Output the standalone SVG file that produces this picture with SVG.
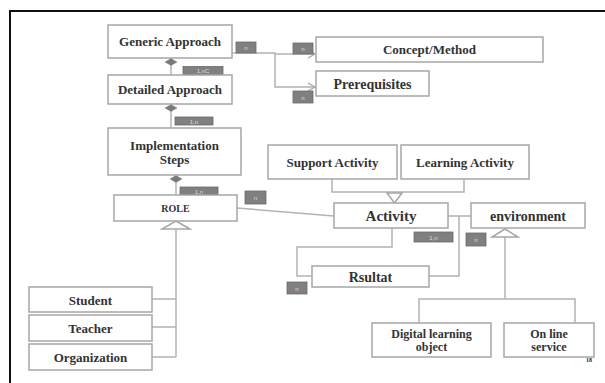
<svg xmlns="http://www.w3.org/2000/svg" width="605" height="383" viewBox="0 0 605 383">
<style>
.box{fill:#fff;stroke:#a6a6a6;stroke-width:1.5}
.t{font-family:"Liberation Serif",serif;font-weight:bold;fill:#333;text-anchor:middle}
.ln{fill:none;stroke:#b3b3b3;stroke-width:1.5}
.lb{fill:#808080;stroke:#6a6a6a;stroke-width:0.8}
.lt{font-family:"Liberation Sans",sans-serif;font-size:6px;fill:#ddd;text-anchor:middle}
.dia{fill:#7a7a7a;stroke:#888;stroke-width:0.5}
.tri{fill:#fff;stroke:#a6a6a6;stroke-width:1.5}
</style>
<defs>
<marker id="open" markerWidth="10" markerHeight="10" refX="8" refY="5" orient="auto" markerUnits="userSpaceOnUse">
<path d="M1,1 L8,5 L1,9" fill="none" stroke="#a6a6a6" stroke-width="1.3"/>
</marker>
</defs>
<rect width="605" height="383" fill="#fff"/>
<path d="M10,383 L10,11 L605,11" fill="none" stroke="#111" stroke-width="2"/>

<g id="connectors">
<path class="ln" d="M171,58 L171,75"/>
<path class="ln" d="M171,104 L171,128"/>
<path class="ln" d="M176,175 L176,195"/>
<path class="ln" d="M232,53 L275,53 L275,54 L315,54" marker-end="url(#open)"/>
<path class="ln" d="M275,54 L275,87 L315,87" marker-end="url(#open)"/>
<path class="ln" d="M176,229 L176,357"/>
<path class="ln" d="M152,299 L176,299 M152,327 L176,327 M152,357 L176,357"/>
<path class="ln" d="M332,179 L332,192 L464,192 L464,179"/>
<path class="ln" d="M237,208 L334,216"/>
<path class="ln" d="M448,216 L471,216 M459,216 L459,276 L429,276"/>
<path class="ln" d="M392,228 L392,247 L297,247 L297,276 L312,276"/>
<path class="ln" d="M505,237 L505,299 M419,323 L419,299 L575,299 L575,323"/>
<polygon class="dia" points="165,62 171,58.5 177,62 171,65.5"/>
<polygon class="dia" points="165,108 171,104.5 177,108 171,111.5"/>
<polygon class="dia" points="170,179 176,175.5 182,179 176,182.5"/>
<polygon class="tri" points="176,221 190,229 162,229"/>
<polygon class="tri" points="387,193 402,193 394.5,203"/>
<polygon class="tri" points="505,229 518,237 492,237"/>
<rect class="lb" x="236" y="42" width="20" height="11"/><text class="lt" x="246" y="50">n</text>
<rect class="lb" x="293" y="43" width="20" height="11"/><text class="lt" x="303" y="51">n</text>
<rect class="lb" x="293" y="91" width="20" height="12"/><text class="lt" x="303" y="99.5">n</text>
<rect class="lb" x="183" y="66.5" width="40" height="8"/><text class="lt" x="203" y="73">1,nC</text>
<rect class="lb" x="175" y="117" width="38" height="8"/><text class="lt" x="194" y="123.5">1,n</text>
<rect class="lb" x="180" y="187" width="38" height="8"/><text class="lt" x="199" y="193.5">1,n</text>
<rect class="lb" x="245" y="191" width="21" height="13"/><text class="lt" x="255.5" y="199.5">n</text>
<rect class="lb" x="414" y="232" width="39" height="10"/><text class="lt" x="433.5" y="239.5">1,n</text>
<rect class="lb" x="466" y="233" width="20" height="13"/><text class="lt" x="476" y="241.5">n</text>
<rect class="lb" x="287" y="282" width="20" height="12"/><text class="lt" x="297" y="290.5">n</text>
</g>

<g id="generic"><rect class="box" x="108" y="25" width="124" height="33"/><text class="t" x="170" y="46" font-size="13">Generic Approach</text></g>
<g id="detailed"><rect class="box" x="108" y="75" width="124" height="29"/><text class="t" x="170" y="94" font-size="13">Detailed Approach</text></g>
<g id="implementation"><rect class="box" x="108" y="128" width="133" height="47"/><text class="t" x="174.5" y="150" font-size="13">Implementation</text><text class="t" x="174.5" y="164" font-size="13">Steps</text></g>
<g id="role"><rect class="box" x="114" y="195" width="123" height="26"/><text class="t" x="175.5" y="211.5" font-size="10">ROLE</text></g>
<g id="concept"><rect class="box" x="316" y="37" width="227" height="25"/><text class="t" x="429.5" y="54" font-size="13">Concept/Method</text></g>
<g id="prerequisites"><rect class="box" x="316" y="71" width="113" height="25"/><text class="t" x="372.5" y="88.5" font-size="14">Prerequisites</text></g>
<g id="support"><rect class="box" x="268" y="145" width="129" height="34"/><text class="t" x="332.5" y="166.5" font-size="13">Support Activity</text></g>
<g id="learning"><rect class="box" x="401" y="145" width="128" height="34"/><text class="t" x="465" y="166.5" font-size="13">Learning Activity</text></g>
<g id="activity"><rect class="box" x="334" y="203" width="114" height="25"/><text class="t" x="391" y="221" font-size="15">Activity</text></g>
<g id="environment"><rect class="box" x="471" y="203" width="114" height="25"/><text class="t" x="528" y="220.5" font-size="14">environment</text></g>
<g id="rsultat"><rect class="box" x="312" y="266" width="117" height="21"/><text class="t" x="370.5" y="281.5" font-size="14">Rsultat</text></g>
<g id="student"><rect class="box" x="29" y="287" width="123" height="25"/><text class="t" x="90.5" y="304.5" font-size="13">Student</text></g>
<g id="teacher"><rect class="box" x="29" y="315" width="123" height="26"/><text class="t" x="90.5" y="333" font-size="13">Teacher</text></g>
<g id="organization"><rect class="box" x="29" y="344" width="123" height="26"/><text class="t" x="90.5" y="362" font-size="13">Organization</text></g>
<g id="digital"><rect class="box" x="372" y="323" width="119" height="34"/><text class="t" x="431.5" y="338" font-size="12">Digital learning</text><text class="t" x="431.5" y="351" font-size="12">object</text></g>
<g id="online"><rect class="box" x="504" y="323" width="90" height="34"/><text class="t" x="549" y="338" font-size="12">On line</text><text class="t" x="549" y="351" font-size="12">service</text></g>
<text x="589" y="362" font-family="Liberation Serif,serif" font-weight="bold" font-size="6" fill="#222" text-anchor="middle">18</text>
</svg>
